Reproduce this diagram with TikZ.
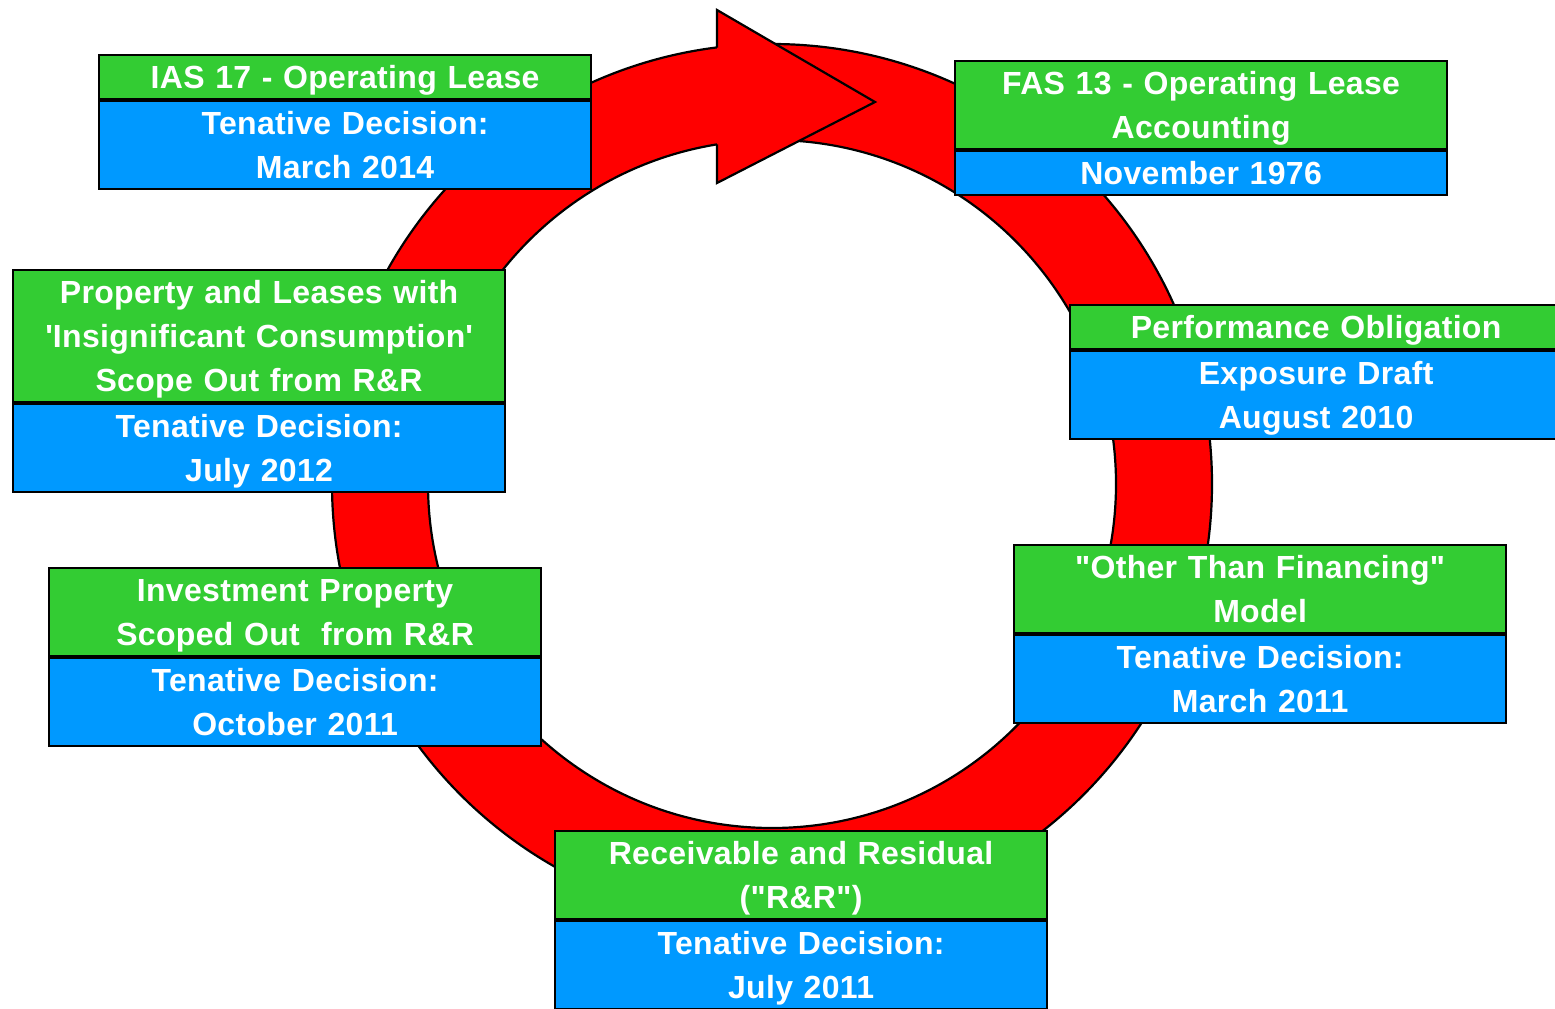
\documentclass[tikz,border=0pt]{standalone}
\usepackage{fontspec}
\usetikzlibrary{positioning}

\newfontfamily\boxfont{Liberation Sans}[LetterSpace=1]
\definecolor{ringred}{HTML}{FF0000}
\definecolor{headgreen}{HTML}{33CC33}
\definecolor{dateblue}{HTML}{0099FF}
% righe tutte alte uguali
\newcommand\boxstrut{\rule[-10.5pt]{0pt}{44pt}}

\tikzset{
  stage/.style={draw=black, line width=2.2pt, text=white, align=center,
    text width=478pt, inner xsep=7pt, inner ysep=0pt,
    font=\boxfont\bfseries\fontsize{32}{44}\selectfont,
    execute at begin node=\boxstrut, execute at end node=\boxstrut},
  headbox/.style={stage, fill=headgreen, anchor=north west},
  datebox/.style={stage, fill=dateblue},
}

\begin{document}
\begin{tikzpicture}[x=1pt,y=-1pt]
    \useasboundingbox (0,0) rectangle (1555,1009);
    \clip (0,0) rectangle (1555,1009);

    % Anello rosso
    \coordinate (c) at (772,484);
    \draw[line width=2.2pt, fill=ringred, even odd rule] (c) circle (440pt) (c) circle (344pt);

    % Punta della freccia
    \fill[ringred] (717,10) -- (875,102) -- (717,183) -- cycle;
    \draw[line width=2.2pt] (717,47.5) -- (717,10) -- (875,102) -- (717,183) -- (717,144.4);

    % Riquadri (verde sopra, blu sotto)
    \node[headbox] (ias) at (98,54) {IAS 17 - Operating Lease};
    \node[datebox, below=0pt of ias] (iasdate) {Tenative Decision:\\March 2014};

    \node[headbox] (fas) at (954,60) {FAS 13 - Operating Lease\\Accounting};
    \node[datebox, below=0pt of fas] (fasdate) {November 1976};

    \node[headbox] (perf) at (1069,304) {Performance Obligation};
    \node[datebox, below=0pt of perf] (perfdate) {Exposure Draft\\August 2010};

    \node[headbox] (other) at (1013,544) {"Other Than Financing"\\Model};
    \node[datebox, below=0pt of other] (otherdate) {Tenative Decision:\\March 2011};

    \node[headbox] (recv) at (554,830) {Receivable and Residual\\("R\&R")};
    \node[datebox, below=0pt of recv] (recvdate) {Tenative Decision:\\July 2011};

    \node[headbox] (invest) at (48,567) {Investment Property\\Scoped Out~ from R\&R};
    \node[datebox, below=0pt of invest] (investdate) {Tenative Decision:\\October 2011};

    \node[headbox] (prop) at (12,269) {Property and Leases with\\\textquotesingle Insignificant Consumption\textquotesingle\\Scope Out from R\&R};
    \node[datebox, below=0pt of prop] (propdate) {Tenative Decision:\\July 2012};
\end{tikzpicture}
\end{document}
